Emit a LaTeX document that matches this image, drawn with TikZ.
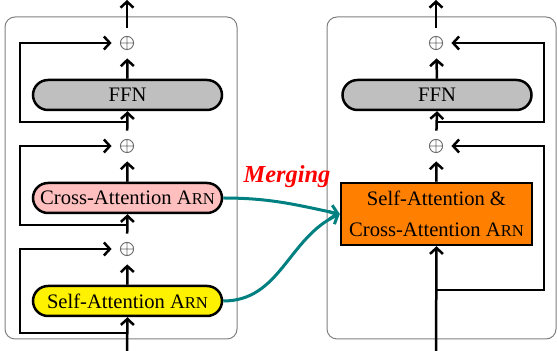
\documentclass[tikz,border=0pt]{standalone}
\usepackage{fontspec}
\setmainfont{Liberation Serif}
\usetikzlibrary{arrows.meta,shapes.misc}
\newcommand{\arnsc}{A{\fontsize{8.3}{9}\selectfont RN}}
\tikzset{
  arr/.style={line width=1.25pt,-{Straight Barb[length=3pt,width=6.5pt]}},
  opl/.style={circle,minimum size=15pt,inner sep=0pt,
    path picture={\draw[gray!85!black,line width=0.45pt] (path picture bounding box.center) circle (3.3pt)
      ++(-3.3pt,0) -- ++(6.6pt,0) ++(-3.3pt,-3.3pt) -- ++(0,6.6pt);}},
  pill/.style={rounded rectangle,draw,line width=1.25pt,minimum width=94.5pt,minimum height=15pt,inner sep=0pt,font=\fontsize{10.3}{12}\selectfont},
  outerbox/.style={draw=gray,line width=0.5pt,rounded corners=5pt},
  merge/.style={teal,line width=1.5pt,-{Straight Barb[length=3.5pt,width=7pt]}}
}
\begin{document}
\begin{tikzpicture}[x=0.5pt,y=-0.5pt]
\useasboundingbox (0,0) rectangle (557,351);
\draw[outerbox] (5,17) rectangle (237,339);
\draw[outerbox] (327,17) rectangle (556,339);
% left column
\coordinate (lout) at (127,0);
\coordinate (lin) at (127,351);
\node[opl] (lo1) at (127,43) {};
\node[pill,fill=lightgray] (lffn) at (127.5,95) {FFN};
\node[opl] (lo2) at (127,146) {};
\node[pill,fill=red!25] (lca) at (127.5,198) {Cross-Attention \arnsc};
\node[opl] (lo3) at (127,249) {};
\node[pill,fill=yellow] (lsa) at (127.5,301) {Self-Attention \arnsc};
\coordinate (lr1) at (127,122);
\coordinate (lr2) at (127,225);
\coordinate (lr3) at (127,333);
\draw[arr] (lin) -- (lsa.south);
\draw[arr] (lsa.north) -- (lo3);
\draw[arr] (lo3) -- (lca.south);
\draw[arr] (lca.north) -- (lo2);
\draw[arr] (lo2) -- (lffn.south);
\draw[arr] (lffn.north) -- (lo1);
\draw[arr] (lo1) -- (lout);
\draw[arr] (lr1) -- ++(-107,0) |- (lo1.west);
\draw[arr] (lr2) -- ++(-107,0) |- (lo2.west);
\draw[arr] (lr3) -- ++(-107,0) |- (lo3.west);
% right column
\coordinate (rout) at (436,0);
\coordinate (rin) at (436,351);
\node[opl] (ro1) at (436,43) {};
\node[pill,fill=lightgray] (rffn) at (437,95) {FFN};
\node[opl] (ro2) at (436,146) {};
\node[draw,line width=1.25pt,fill=orange,minimum width=95.5pt,minimum height=31pt,inner sep=0pt,align=center,font=\fontsize{10.3}{15.5}\selectfont] (rm) at (436.5,214) {Self-Attention \&\\Cross-Attention \arnsc};
\coordinate (rr1) at (436,122);
\coordinate (rr2) at (436,290);
\draw[arr] (rin) -- (rm.south);
\draw[arr] (rm.north) -- (ro2);
\draw[arr] (ro2) -- (rffn.south);
\draw[arr] (rffn.north) -- (ro1);
\draw[arr] (ro1) -- (rout);
\draw[arr] (rr1) -- ++(108,0) |- (ro1.east);
\draw[arr] (rr2) -- ++(108,0) |- (ro2.east);
% merging
\node[text=red,font=\fontsize{12.2}{14}\selectfont\bfseries\itshape] (mg) at (287,177) {Merging};
\draw[merge] (lca.east) to[out=0,in=168] (rm.west);
\draw[merge] (lsa.east) to[out=0,in=205] (rm.west);
\end{tikzpicture}
\end{document}
